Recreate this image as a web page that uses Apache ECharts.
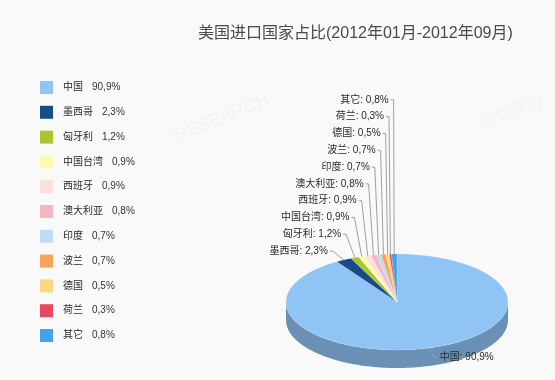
<!DOCTYPE html>
<html>
<head>
<meta charset="utf-8">
<script src="https://cdn.jsdelivr.net/npm/echarts@6/dist/echarts.min.js"></script>
<style>html,body{margin:0;padding:0;background:#f9f9f9;}#chart{width:555px;height:380px;}</style>
</head>
<body>
<div id="chart"></div>
<script>
const titleText = '美国进口国家占比(2012年01月-2012年09月)';
const categories = ['中国','墨西哥','匈牙利','中国台湾','西班牙','澳大利亚','印度','波兰','德国','荷兰','其它'];
const shares = [90.9, 2.3, 1.2, 0.9, 0.9, 0.8, 0.7, 0.7, 0.5, 0.3, 0.8];
const colors = ['#8fc4f4','#174c86','#a9c62d','#fafab0','#fbe0e0','#f6b6bf','#bddcf6','#f7a35c','#f8d882','#e8475e','#43a3ea'];

const FONT = '"Liberation Sans", Arial, "Noto Sans CJK SC", sans-serif';
const G = { cx: 397, cy: 302, rx: 111, ry: 48, depth: 18, labelDist: 10, xDist: 23, gapY: 16.8 };

function fmt(v) { return v.toFixed(1).replace('.', ',') + '%'; }
function darken(hex, k) {
  const n = parseInt(hex.slice(1), 16);
  const r = Math.round(((n >> 16) & 255) * k), g = Math.round(((n >> 8) & 255) * k), b = Math.round((n & 255) * k);
  return 'rgb(' + r + ',' + g + ',' + b + ')';
}
const total = shares.reduce((a, b) => a + b, 0);
const starts = [];
(function () { let acc = 0; shares.forEach(v => { starts.push(acc / total * 360); acc += v; }); })();

function pt(deg, dy) {
  const t = deg * Math.PI / 180;
  return [G.cx + G.rx * Math.sin(t), G.cy - G.ry * Math.cos(t) + (dy || 0)];
}
function arc(a, b, dy) {
  const pts = [];
  const n = Math.max(2, Math.ceil(Math.abs(b - a) / 1));
  for (let k = 0; k <= n; k++) pts.push(pt(a + (b - a) * k / n, dy));
  return pts;
}

// label layout derived from the data (mid angles) with overlap resolution
const labels = shares.map((v, i) => {
  const m = (starts[i] + v / total * 180) * Math.PI / 180;
  const s = Math.sin(m), c = Math.cos(m);
  return {
    i, left: s < 0,
    ax: G.cx + G.rx * s, ay: G.cy - G.ry * c,
    px: G.cx + (G.rx + G.xDist) * s,
    y: G.cy - (G.ry + G.labelDist) * c
  };
});
(function () {
  const L = labels.filter(l => l.left).sort((a, b) => b.y - a.y);
  for (let k = 1; k < L.length; k++) L[k].y = Math.min(L[k].y, L[k - 1].y - G.gapY);
  const R = labels.filter(l => !l.left).sort((a, b) => a.y - b.y);
  for (let k = 1; k < R.length; k++) R[k].y = Math.max(R[k].y, R[k - 1].y + G.gapY);
})();

function renderItem(params, api) {
  const i = params.dataIndex;
  const span = api.value(0) / total * 360;
  const a0 = starts[i], a1 = a0 + span;
  const children = [];
  const s = Math.max(a0, 90), e = Math.min(a1, 270);
  if (s < e) {
    children.push({ type: 'polygon', z2: 0, shape: { points: arc(s, e, 0).concat(arc(e, s, G.depth)) },
      style: { fill: darken(colors[i], 0.74) } });
  }
  children.push({ type: 'polygon', z2: 1, shape: { points: [[G.cx, G.cy]].concat(arc(a0, a1, 0)) },
    style: { fill: colors[i], stroke: 'rgba(255,255,255,0.35)', lineWidth: 0.5 } });
  const l = labels[i];
  const dir = l.left ? -1 : 1;
  children.push({ type: 'polyline', z2: 2, shape: { points: [[l.px + dir * 3, l.y], [l.px, l.y], [l.ax, l.ay]] },
    style: { stroke: '#a0a0a0', lineWidth: 1, fill: null } });
  children.push({ type: 'text', z2: 3, x: l.px + dir * 5, y: l.y,
    style: { text: categories[i] + ': ' + fmt(shares[i]), fill: '#2a2a2a', fontSize: 10, fontFamily: FONT,
      align: l.left ? 'right' : 'left', verticalAlign: 'middle' } });
  return { type: 'group', children };
}

const chart = echarts.init(document.getElementById('chart'), null, { renderer: 'canvas' });
chart.setOption({
  backgroundColor: '#f9f9f9',
  animation: false,
  title: { text: titleText, left: 198, top: 26, padding: 0,
    textStyle: { fontSize: 16, fontWeight: 'normal', color: '#4a4a4a', fontFamily: FONT } },
  legend: {
    orient: 'vertical', left: 40, top: 81, padding: 0, itemGap: 11.8, itemWidth: 13, itemHeight: 13,
    icon: 'rect', selectedMode: false,
    data: categories,
    formatter: function (name) { return '{n|' + name + '}{v|' + fmt(shares[categories.indexOf(name)]) + '}'; },
    textStyle: { fontSize: 10, color: '#2a2a2a', fontFamily: FONT,
      rich: { n: { fontSize: 10, color: '#2a2a2a', fontFamily: FONT, padding: [0, 9, 0, 5] },
              v: { fontSize: 10, color: '#333', fontFamily: FONT } } }
  },
  graphic: [
    { type: 'text', x: 222, y: 118, rotation: 0.38, silent: true,
      style: { text: 'RESEARCH', fill: 'rgba(170,185,200,0.10)', font: '18px ' + FONT, align: 'center', verticalAlign: 'middle' } },
    { type: 'text', x: 512, y: 112, rotation: 0.3, silent: true,
      style: { text: '跨国采购', fill: 'rgba(170,185,200,0.10)', font: '16px ' + FONT, align: 'center', verticalAlign: 'middle' } }
  ],
  series: [
    { type: 'pie', radius: [0, 0], center: [-50, -50], silent: true,
      label: { show: false }, labelLine: { show: false },
      data: categories.map((n, i) => ({ name: n, value: shares[i], itemStyle: { color: colors[i] } })) },
    { type: 'custom', coordinateSystem: 'none', silent: true, renderItem: renderItem,
      data: shares.map(v => [v]) }
  ]
});
</script>
</body>
</html>
